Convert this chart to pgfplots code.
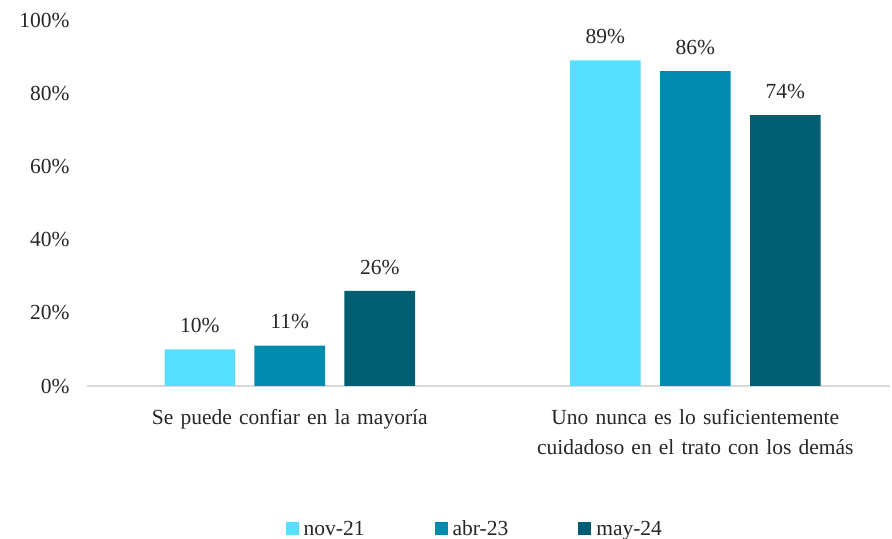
\documentclass[border=0pt]{standalone}
\usepackage{pgfplots}
\pgfplotsset{compat=1.18}
\usepackage{fontspec}
\setmainfont{Liberation Serif}
\definecolor{c1}{HTML}{57DFFF}
\definecolor{c2}{HTML}{008BAE}
\definecolor{c3}{HTML}{005E73}
\definecolor{axgray}{HTML}{D9D9D9}
\begin{document}
\begin{tikzpicture}
\path[use as bounding box] (0bp,0bp) rectangle (892bp,539bp);
\begin{axis}[
  at={(87bp,153bp)}, anchor=south west,
  scale only axis, width=803bp, height=366bp,
  xmin=-0.5, xmax=1.48, ymin=0, ymax=100,
  axis lines*=left,
  y axis line style={draw=none},
  x axis line style={draw=axgray, line width=1.5bp, -},
  major tick length=0pt,
  ytick={0,20,40,60,80,100},
  yticklabel={\pgfmathprintnumber{\tick}\%},
  /pgf/number format/assume math mode=true,
  yticklabel style={xshift=-14bp},
  xtick={0,1},
  xticklabels={Se puede confiar en la mayoría, Uno nunca es lo suficientemente cuidadoso en el trato con los demás},
  xticklabel style={text width=340bp, align=center, yshift=-20bp},
  tick label style={font=\fontsize{21.5bp}{30bp}\selectfont, text=black!85},
  ybar, bar width=0.174,
  nodes near coords={\pgfmathprintnumber{\pgfplotspointmeta}\%},
  nodes near coords style={font=\fontsize{21.5bp}{24bp}\selectfont, text=black!85, yshift=13bp},
  legend columns=3,
  legend style={at={(0.483,-0.39)}, anchor=center, draw=none, fill=none,
    font=\fontsize{21.5bp}{24bp}\selectfont, text=black!85,
    /tikz/every odd column/.append style={column sep=3bp},
    /tikz/every even column/.append style={column sep=68bp}},
  legend image code/.code={\fill[#1] (0bp,-6.5bp) rectangle (13bp,6.5bp);},
]
\addplot[fill=c1, draw=none, bar shift=-0.2218] coordinates {(0,10) (1,89)};
\addplot[fill=c2, draw=none, bar shift=0] coordinates {(0,11) (1,86)};
\addplot[fill=c3, draw=none, bar shift=0.2218] coordinates {(0,26) (1,74)};
\legend{nov-21, abr-23, may-24}
\end{axis}
\end{tikzpicture}
\end{document}
